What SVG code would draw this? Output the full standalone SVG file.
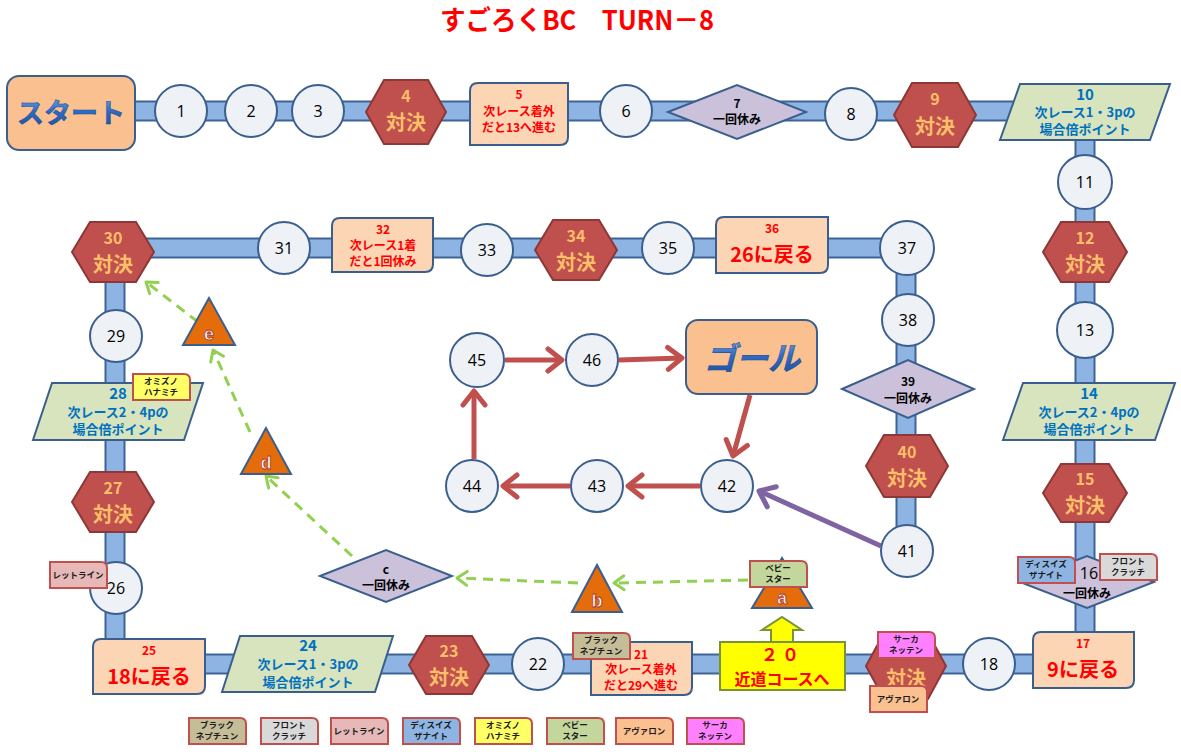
<svg xmlns="http://www.w3.org/2000/svg" xmlns:xlink="http://www.w3.org/1999/xlink" width="1181" height="752" viewBox="0 0 1181 752">
<style>
text{font-family:"Noto Sans CJK JP","Noto Sans",sans-serif;text-anchor:middle}
.cir{fill:#eef1f6;stroke:#3a5f8e;stroke-width:2}
.num{font-family:"Open Sans","Noto Sans",sans-serif;font-size:16px;fill:#000}
.hex{fill:#c0504d;stroke:#8c3836;stroke-width:2}
.ht1{font-size:16px;font-weight:bold;fill:#fbbf6a}
.ht2{font-size:20px;font-weight:bold;fill:#fbbf6a}
.box{fill:#fcd5b5;stroke:#3a5f8e;stroke-width:2}
.rt{font-size:12px;font-weight:bold;fill:#ff0000}
.rbig{font-size:20px;font-weight:bold;fill:#ff0000}
.para{fill:#d7e4bd;stroke:#3a5f8e;stroke-width:2}
.bt1{font-size:15px;font-weight:bold;fill:#0070c0}
.bt{font-size:13px;font-weight:bold;fill:#0070c0}
.dia{fill:#ccc1da;stroke:#3a5f8e;stroke-width:2}
.dt{font-size:12px;font-weight:bold;fill:#000}
.tri{fill:#e46c0a;stroke:#3a5f8e;stroke-width:2}
.let{font-family:"Liberation Sans",sans-serif;font-size:18px;font-weight:bold;fill:#ffffff;stroke:#a33a36;stroke-width:0.8}
.tag{stroke:#c0504d;stroke-width:2}
.tt{font-size:8.5px;font-weight:bold;fill:#1a1a1a}
.trkO{fill:none;stroke:#3f6396;stroke-width:21}
.trkI{fill:none;stroke:#8eb4e3;stroke-width:17}
.red{fill:none;stroke:#c0504d;stroke-width:5}
.pur{fill:none;stroke:#8064a2;stroke-width:5}
.grn{fill:none;stroke:#92d050;stroke-width:3;stroke-dasharray:10 7}
</style>
<defs>
<path id="tagp" d="M0,0 H51 Q57,0 57,6 V26 H0 Z"/>
<linearGradient id="bluegrad" x1="0" y1="0" x2="0" y2="1">
<stop offset="0" stop-color="#7fb2ec"/><stop offset="0.5" stop-color="#2f6bc4"/><stop offset="1" stop-color="#1d4d96"/>
</linearGradient>
<marker id="arR" markerUnits="userSpaceOnUse" viewBox="-18 -14 22 28" refX="0" refY="0" markerWidth="22" markerHeight="28" orient="auto">
<path d="M-14,-11 L0,0 L-14,11" fill="none" stroke="#c0504d" stroke-width="5" stroke-linecap="round" stroke-linejoin="round"/>
</marker>
<marker id="arP" markerUnits="userSpaceOnUse" viewBox="-18 -14 22 28" refX="0" refY="0" markerWidth="22" markerHeight="28" orient="auto">
<path d="M-14,-11 L0,0 L-14,11" fill="none" stroke="#8064a2" stroke-width="5" stroke-linecap="round" stroke-linejoin="round"/>
</marker>
<marker id="arG" markerUnits="userSpaceOnUse" viewBox="-14 -10 17 20" refX="0" refY="0" markerWidth="17" markerHeight="20" orient="auto">
<path d="M-10,-7 L0,0 L-10,7" fill="none" stroke="#92d050" stroke-width="3" stroke-linecap="round" stroke-linejoin="round"/>
</marker>
</defs>
<rect width="1181" height="752" fill="#ffffff"/>

<g id="title">
<text x="577" y="30" font-size="27" font-weight="bold" fill="#ff0000" textLength="274" lengthAdjust="spacingAndGlyphs">すごろくBC　TURN－8</text>
</g>

<g id="connectors">
<path class="trkO" d="M130,111 H1085 V664 H115 V248 H906 V551"/>
<path class="trkI" d="M130,111 H1085 V664 H115 V248 H906 V551"/>
<line class="red" x1="505" y1="360" x2="562" y2="360" marker-end="url(#arR)"/>
<line class="red" x1="619" y1="360" x2="682" y2="358" marker-end="url(#arR)"/>
<line class="red" x1="750" y1="395" x2="733" y2="456" marker-end="url(#arR)"/>
<line class="red" x1="700" y1="486" x2="628" y2="486" marker-end="url(#arR)"/>
<line class="red" x1="570" y1="486" x2="503" y2="486" marker-end="url(#arR)"/>
<line class="red" x1="474" y1="459" x2="474" y2="391" marker-end="url(#arR)"/>
<line class="pur" x1="881" y1="546" x2="759" y2="491" marker-end="url(#arP)"/>
<line class="grn" x1="748" y1="580" x2="614" y2="583" marker-end="url(#arG)"/>
<line class="grn" x1="578" y1="583" x2="457" y2="578" marker-end="url(#arG)"/>
<line class="grn" x1="352" y1="556" x2="266" y2="476" marker-end="url(#arG)"/>
<line class="grn" x1="250" y1="432" x2="213" y2="350" marker-end="url(#arG)"/>
<line class="grn" x1="198" y1="322" x2="146" y2="282" marker-end="url(#arG)"/>
</g>

<g id="n-start">
<rect x="7" y="76" width="128" height="74" rx="12" fill="#fac090" stroke="#3a5f8e" stroke-width="2"/>
<text x="71" y="123" font-size="27" font-weight="bold" fill="url(#bluegrad)" stroke="#1d4d96" stroke-width="0.6">スタート</text>
</g>
<g id="n1"><circle class="cir" cx="181" cy="111" r="26"/><text class="num" x="181" y="117">1</text></g>
<g id="n2"><circle class="cir" cx="251" cy="111" r="26"/><text class="num" x="251" y="117">2</text></g>
<g id="n3"><circle class="cir" cx="318" cy="111" r="26"/><text class="num" x="318" y="117">3</text></g>
<g id="n4"><polygon class="hex" points="366,112 384,80 428,80 446,112 428,144 384,144"/><text class="ht1" x="406" y="102">4</text><text class="ht2" x="406" y="130">対決</text></g>
<g id="n5"><path class="box" d="M478,83 H568 V137 Q568,145 560,145 H470 V91 Q470,83 478,83 Z"/><text class="rt" x="519" y="99">5</text><text class="rt" x="519" y="116">次レース着外</text><text class="rt" x="519" y="132">だと13へ進む</text></g>
<g id="n6"><circle class="cir" cx="626" cy="111" r="26"/><text class="num" x="626" y="117">6</text></g>
<g id="n7"><polygon class="dia" points="668,112 737,85 806,112 737,139"/><text class="dt" x="737" y="108">7</text><text class="dt" x="737" y="124">一回休み</text></g>
<g id="n8"><circle class="cir" cx="851" cy="114" r="26"/><text class="num" x="851" y="120">8</text></g>
<g id="n9"><polygon class="hex" points="894,115 912,83 958,83 976,115 958,147 912,147"/><text class="ht1" x="935" y="105">9</text><text class="ht2" x="935" y="134">対決</text></g>
<g id="n10"><polygon class="para" points="1000,140 1020,84 1170,84 1150,140"/><text class="bt1" x="1085" y="100">10</text><text class="bt" x="1085" y="117">次レース1・3pの</text><text class="bt" x="1085" y="134">場合倍ポイント</text></g>
<g id="n11"><circle class="cir" cx="1085" cy="182" r="27"/><text class="num" x="1085" y="188">11</text></g>
<g id="n12"><polygon class="hex" points="1043,252 1061,222 1109,222 1127,252 1109,282 1061,282"/><text class="ht1" x="1085" y="244">12</text><text class="ht2" x="1085" y="272">対決</text></g>
<g id="n13"><circle class="cir" cx="1085" cy="330" r="28"/><text class="num" x="1085" y="336">13</text></g>
<g id="n14"><polygon class="para" points="1003,440 1023,383 1175,383 1155,440"/><text class="bt1" x="1089" y="399">14</text><text class="bt" x="1089" y="417">次レース2・4pの</text><text class="bt" x="1089" y="434">場合倍ポイント</text></g>
<g id="n15"><polygon class="hex" points="1043,493 1061,464 1109,464 1127,493 1109,522 1061,522"/><text class="ht1" x="1085" y="485">15</text><text class="ht2" x="1085" y="513">対決</text></g>
<g id="n16"><polygon class="dia" points="1020,582 1087,556 1154,582 1087,608"/><text class="num" x="1089" y="579" font-size="14">16</text><text class="dt" x="1087" y="598" font-size="12">一回休み</text>
<use href="#tagp" class="tag" fill="#8db4e2" x="1018" y="557"/><text class="tt" x="1046" y="567">ディスイズ</text><text class="tt" x="1046" y="578">ザナイト</text>
<use href="#tagp" class="tag" fill="#d9d9d9" x="1100" y="554"/><text class="tt" x="1128" y="564">フロント</text><text class="tt" x="1128" y="575">クラッチ</text></g>
<g id="n17"><path class="box" d="M1041,632 H1134 V680 Q1134,688 1126,688 H1033 V640 Q1033,632 1041,632 Z"/><text class="rt" x="1083" y="648" font-weight="normal" font-size="13">17</text><text class="rbig" x="1083" y="677">9に戻る</text></g>
<g id="n18"><circle class="cir" cx="989" cy="664" r="26"/><text class="num" x="989" y="670">18</text></g>
<g id="n19"><polygon class="hex" points="866,666 884,633 928,633 946,666 928,699 884,699"/><text class="ht2" x="906" y="686">対決</text>
<use href="#tagp" class="tag" fill="#ff80ff" x="878" y="632"/><text class="tt" x="906" y="642">サーカ</text><text class="tt" x="906" y="653">ネッテン</text>
<use href="#tagp" class="tag" fill="#fac090" x="870" y="686"/><text class="tt" x="898" y="702">アヴァロン</text></g>
<g id="n20"><polygon points="771,642 771,630 762,630 782,617 802,630 793,630 793,642" fill="#ffff00" stroke="#77933c" stroke-width="2"/>
<rect x="720" y="642" width="125" height="48" fill="#ffff00" stroke="#77933c" stroke-width="2"/><text x="782" y="661" font-size="17" font-weight="bold" fill="#ff0000" letter-spacing="4">２０</text><text x="782" y="685" font-size="16" font-weight="bold" fill="#ff0000">近道コースへ</text></g>
<g id="n21"><path class="box" d="M599,642 H692 V687 Q692,695 684,695 H591 V650 Q591,642 599,642 Z"/><text class="rt" x="641" y="659" font-size="13" font-weight="normal">21</text><text class="rt" x="641" y="674">次レース着外</text><text class="rt" x="641" y="690">だと29へ進む</text>
<use href="#tagp" class="tag" fill="#c4bd97" x="573" y="633"/><text class="tt" x="601" y="643">ブラック</text><text class="tt" x="601" y="654">ネプチュン</text></g>
<g id="n22"><circle class="cir" cx="538" cy="664" r="26"/><text class="num" x="538" y="670">22</text></g>
<g id="n23"><polygon class="hex" points="409,665 426,636 472,636 489,665 472,694 426,694"/><text class="ht1" x="449" y="657">23</text><text class="ht2" x="449" y="685">対決</text></g>
<g id="n24"><polygon class="para" points="222,692 240,636 393,636 375,692"/><text class="bt1" x="308" y="651">24</text><text class="bt" x="308" y="669">次レース1・3pの</text><text class="bt" x="308" y="687">場合倍ポイント</text></g>
<g id="n25"><path class="box" d="M101,639 H205 V686 Q205,694 197,694 H93 V647 Q93,639 101,639 Z"/><text class="rt" x="149" y="655" font-size="13" font-weight="normal">25</text><text class="rbig" x="149" y="684">18に戻る</text></g>
<g id="n26"><circle class="cir" cx="116" cy="588" r="26"/><text class="num" x="116" y="594">26</text>
<use href="#tagp" class="tag" fill="#e6b9b8" x="50" y="562"/><text class="tt" x="78" y="578">レットライン</text></g>
<g id="n27"><polygon class="hex" points="72,502 90,472 136,472 154,502 136,532 90,532"/><text class="ht1" x="113" y="494">27</text><text class="ht2" x="113" y="522">対決</text></g>
<g id="n28"><polygon class="para" points="33,440 52,383 203,383 184,440"/><text class="bt1" x="118" y="399">28</text><text class="bt" x="118" y="417">次レース2・4pの</text><text class="bt" x="118" y="434">場合倍ポイント</text>
<use href="#tagp" class="tag" fill="#ffff66" x="133" y="374"/><text class="tt" x="161" y="384">オミズノ</text><text class="tt" x="161" y="395">ハナミチ</text></g>
<g id="n29"><circle class="cir" cx="116" cy="336" r="26"/><text class="num" x="116" y="342">29</text></g>
<g id="n30"><polygon class="hex" points="72,252 90,222 136,222 154,252 136,282 90,282"/><text class="ht1" x="113" y="244">30</text><text class="ht2" x="113" y="272">対決</text></g>
<g id="n31"><circle class="cir" cx="284" cy="248" r="26"/><text class="num" x="284" y="254">31</text></g>
<g id="n32"><path class="box" d="M340,218 H433 V264 Q433,272 425,272 H332 V226 Q332,218 340,218 Z"/><text class="rt" x="383" y="234" font-size="13" font-weight="normal">32</text><text class="rt" x="383" y="250">次レース1着</text><text class="rt" x="383" y="266">だと1回休み</text></g>
<g id="n33"><circle class="cir" cx="487" cy="250" r="26"/><text class="num" x="487" y="256">33</text></g>
<g id="n34"><polygon class="hex" points="535,250 553,220 599,220 617,250 599,280 553,280"/><text class="ht1" x="576" y="242">34</text><text class="ht2" x="576" y="270">対決</text></g>
<g id="n35"><circle class="cir" cx="668" cy="248" r="26"/><text class="num" x="668" y="254">35</text></g>
<g id="n36"><path class="box" d="M724,217 H828 V265 Q828,273 820,273 H716 V225 Q716,217 724,217 Z"/><text class="rt" x="772" y="233" font-size="13" font-weight="normal">36</text><text class="rbig" x="772" y="262">26に戻る</text></g>
<g id="n37"><circle class="cir" cx="907" cy="248" r="27"/><text class="num" x="907" y="254">37</text></g>
<g id="n38"><circle class="cir" cx="908" cy="320" r="26"/><text class="num" x="908" y="326">38</text></g>
<g id="n39"><polygon class="dia" points="842,389 908,360 974,389 908,418"/><text class="dt" x="908" y="386">39</text><text class="dt" x="908" y="403">一回休み</text></g>
<g id="n40"><polygon class="hex" points="866,466 884,435 930,435 948,466 930,497 884,497"/><text class="ht1" x="907" y="458">40</text><text class="ht2" x="907" y="486">対決</text></g>
<g id="n41"><circle class="cir" cx="907" cy="551" r="26"/><text class="num" x="907" y="557">41</text></g>
<g id="n42"><circle class="cir" cx="727" cy="486" r="26"/><text class="num" x="727" y="492">42</text></g>
<g id="n43"><circle class="cir" cx="597" cy="486" r="26"/><text class="num" x="597" y="492">43</text></g>
<g id="n44"><circle class="cir" cx="472" cy="486" r="26"/><text class="num" x="472" y="492">44</text></g>
<g id="n45"><circle class="cir" cx="477" cy="360" r="27"/><text class="num" x="477" y="366">45</text></g>
<g id="n46"><circle class="cir" cx="592" cy="360" r="26"/><text class="num" x="592" y="366">46</text></g>
<g id="n-goal">
<rect x="686" y="320" width="131" height="74" rx="12" fill="#fac090" stroke="#3a5f8e" stroke-width="2"/>
<text x="752" y="370" font-size="32" font-weight="bold" font-style="italic" fill="url(#bluegrad)" stroke="#1d4d96" stroke-width="0.6">ゴール</text>
</g>
<g id="na"><polygon class="tri" points="782,558 752,608 812,608"/><text class="let" x="782" y="604">a</text>
<use href="#tagp" class="tag" fill="#c3d69b" x="750" y="561"/><text class="tt" x="778" y="571">ベビー</text><text class="tt" x="778" y="582">スター</text></g>
<g id="nb"><polygon class="tri" points="597,565 572,612 622,612"/><text class="let" x="597" y="607">b</text></g>
<g id="nc"><polygon class="dia" points="320,576 386,550 452,576 386,602"/><text class="dt" x="386" y="574">c</text><text class="dt" x="386" y="590">一回休み</text></g>
<g id="nd"><polygon class="tri" points="266,428 241,474 291,474"/><text class="let" x="266" y="469">d</text></g>
<g id="ne"><polygon class="tri" points="209,298 183,345 235,345"/><text class="let" x="209" y="340">e</text></g>

<g id="legend">
<use href="#tagp" class="tag" fill="#c4bd97" x="189" y="718"/><text class="tt" x="217" y="728">ブラック</text><text class="tt" x="217" y="739">ネプチュン</text>
<use href="#tagp" class="tag" fill="#d9d9d9" x="261" y="718"/><text class="tt" x="289" y="728">フロント</text><text class="tt" x="289" y="739">クラッチ</text>
<use href="#tagp" class="tag" fill="#e6b9b8" x="331" y="718"/><text class="tt" x="359" y="734">レットライン</text>
<use href="#tagp" class="tag" fill="#8db4e2" x="403" y="718"/><text class="tt" x="431" y="728">ディスイズ</text><text class="tt" x="431" y="739">ザナイト</text>
<use href="#tagp" class="tag" fill="#ffff66" x="475" y="718"/><text class="tt" x="503" y="728">オミズノ</text><text class="tt" x="503" y="739">ハナミチ</text>
<use href="#tagp" class="tag" fill="#c3d69b" x="547" y="718"/><text class="tt" x="575" y="728">ベビー</text><text class="tt" x="575" y="739">スター</text>
<use href="#tagp" class="tag" fill="#fac090" x="616" y="718"/><text class="tt" x="644" y="734">アヴァロン</text>
<use href="#tagp" class="tag" fill="#ff80ff" x="687" y="718"/><text class="tt" x="715" y="728">サーカ</text><text class="tt" x="715" y="739">ネッテン</text>
</g>
</svg>
